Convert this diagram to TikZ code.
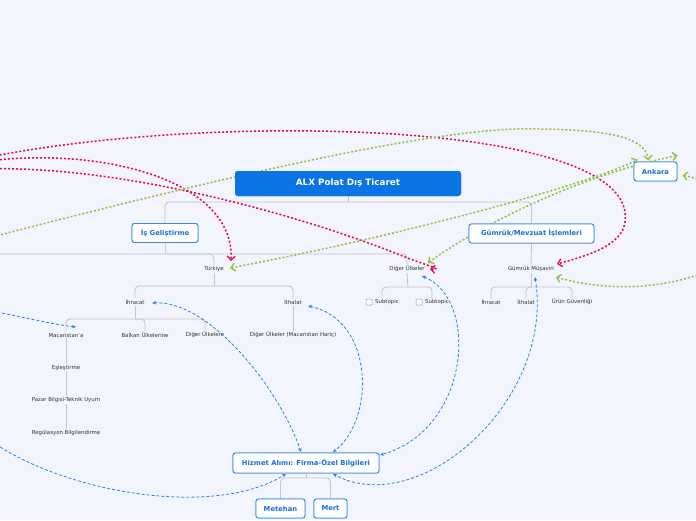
\documentclass[tikz,border=0pt]{standalone}
\usepackage{fontspec}
\setmainfont{DejaVu Sans}
\usetikzlibrary{arrows.meta}
\definecolor{bg}{HTML}{F2F5FD}
\definecolor{rootblue}{HTML}{0A74E4}
\definecolor{boxborder}{HTML}{3B8BE6}
\definecolor{boxtext}{HTML}{1A6FD9}
\definecolor{treeline}{HTML}{C2C6CF}
\definecolor{redc}{HTML}{E5084F}
\definecolor{greenc}{HTML}{8DC43F}
\definecolor{bluec}{HTML}{2B80E4}
\definecolor{labeltext}{HTML}{333333}
\begin{document}
\begin{tikzpicture}[x=1pt,y=-1pt,
  topic/.style={draw=boxborder, line width=0.9pt, fill=white, rounded corners=2.5pt,
    font=\fontsize{6.8}{7}\selectfont\bfseries, text=boxtext, inner sep=0pt, minimum height=19pt},
  rootbox/.style={fill=rootblue, rounded corners=3pt, text=white,
    font=\fontsize{8.8}{9}\selectfont\bfseries, inner sep=0pt, minimum width=226pt, minimum height=25pt},
  lbl/.style={font=\fontsize{5.4}{6}\selectfont, text=labeltext, inner sep=1pt, fill=bg},
  tree/.style={draw=treeline, line width=0.9pt, rounded corners=4pt},
  redrel/.style={draw=redc, line width=1.5pt, dash pattern=on 2pt off 2pt,
    -{Straight Barb[length=4pt,width=8pt,line width=1.3pt]}},
  greenrel/.style={draw=greenc, line width=1.5pt, dash pattern=on 2pt off 2pt,
    {Straight Barb[length=4pt,width=8pt,line width=1.3pt]}-{Straight Barb[length=4pt,width=8pt,line width=1.3pt]}},
  bluerel/.style={draw=bluec, line width=0.8pt, dash pattern=on 3pt off 2pt,
    {Stealth[length=4pt,width=3.5pt]}-{Stealth[length=4pt,width=3.5pt]}},
  checkbox/.style={draw=gray!80, fill=white, line width=0.5pt, rounded corners=0.8pt}
]
\useasboundingbox (0,0) rectangle (696,520);
\fill[bg] (0,0) rectangle (696,520);
\clip (0,0) rectangle (696,520);

% ---------- nodes (placed first, drawn again on top later) ----------
\path
  (348,183.5) node[rootbox] (root) {ALX Polat Dış Ticaret}
  (165,233) node[topic, minimum width=66pt] (isg) {İş Geliştirme}
  (531.5,233.5) node[topic, minimum width=125pt] (gum) {Gümrük/Mevzuat İşlemleri}
  (655.5,171.5) node[topic, minimum width=43pt] (ankara) {Ankara}
  (306,463) node[topic, minimum width=146pt, minimum height=20pt] (hizmet) {Hizmet Alımı: Firma-Özel Bilgileri}
  (280.5,508.5) node[topic, minimum width=49pt] (metehan) {Metehan}
  (330.5,508.5) node[topic, minimum width=33pt] (mert) {Mert};

\path
  (214,269) node[lbl] (turkiye) {Türkiye}
  (407,269) node[lbl] (digerulk) {Diğer Ülkeler}
  (531,269) node[lbl] (gmusavir) {Gümrük Müşaviri}
  (135,302) node[lbl] (ihracat) {İhracat}
  (293,302) node[lbl] (ithalat) {İthalat}
  (387,302) node[lbl] (sub1) {Subtopic}
  (437,302) node[lbl] (sub2) {Subtopic}
  (491,302) node[lbl] (gihr) {İhracat}
  (526,302) node[lbl] (gith) {İthalat}
  (572,302) node[lbl] (urun) {Ürün Güvenliği}
  (66,335) node[lbl] (macar) {Macaristan'a}
  (145,335) node[lbl] (balkan) {Balkan Ülkelerine}
  (205,335) node[lbl] (digerulke) {Diğer Ülkelere}
  (293,335) node[lbl] (digmac) {Diğer Ülkeler (Macaristan Hariç)}
  (66,368) node[lbl] (esles) {Eşleştirme}
  (66,400) node[lbl] (pazar) {Pazar Bilgisi-Teknik Uyum}
  (66,433) node[lbl] (regul) {Regülasyon Bilgilendirme};

% ---------- tree lines ----------
\draw[tree] (root.south) -- (348,202);
\draw[tree] (isg.north) |- (348,202) -| (gum.north);
\draw[tree] (isg.south) -- (166,254);
\draw[tree] (-5,254) -| (turkiye.north);
\draw[tree] (166,254) -| (digerulk.north);
\draw[tree] (turkiye.south) -- (214,286);
\draw[tree] (ihracat.north) |- (214,286) -| (ithalat.north);
\draw[tree] (ihracat.south) -- (135,319);
\draw[tree] (macar.north) |- (135,319) -| (digerulke.north);
\draw[tree] (135,319) -| (balkan.north);
\draw[tree] (macar.south) -- (esles.north);
\draw[tree] (esles.south) -- (pazar.north);
\draw[tree] (pazar.south) -- (regul.north);
\draw[tree] (ithalat.south) -- (digmac.north);
\draw[tree] (digerulk.south) -- (408,287);
\draw[tree] ([xshift=-5pt]sub1.north) |- (408,287) -| ([xshift=-5pt]sub2.north);
\draw[tree] (gum.south) -- (gmusavir.north);
\draw[tree] (gmusavir.south) -- (531,287);
\draw[tree] (gihr.north) |- (531,287) -| (urun.north);
\draw[tree] (531,287) -| (gith.north);
\draw[tree] (hizmet.south) -- (306,478);
\draw[tree] (metehan.north) |- (306,478) -| (mert.north);

% ---------- off-screen ends ----------
\coordinate (offA) at (-20,159);
\coordinate (offB) at (-20,162);
\coordinate (offC) at (-20,169);
\coordinate (offG) at (-20,240);
\coordinate (offM) at (-20,309);
\coordinate (offH) at (-10,440);

% ---------- relationships ----------
% red
\draw[redrel] (offA) .. controls (200,112) and (640,118) .. (625,222)
  .. controls (622,245) and (590,255) .. ([shift={(26,-5)}]gmusavir.center);
\draw[redrel] (offB) .. controls (100,145) and (235,180) .. ([shift={(17,-8)}]turkiye.center);
\draw[redrel] (offC) .. controls (120,164) and (300,215) .. (400,255)
  .. controls (425,265) and (445,270) .. ([shift={(23,0)}]digerulk.center);
% green
\draw[greenrel] (offG) .. controls (250,170) and (450,125) .. (540,129)
  .. controls (600,130) and (645,135) .. ([shift={(-7,-11)}]ankara.center);
\draw[greenrel] ([shift={(16,-1)}]turkiye.center) .. controls (420,232) and (600,180) .. ([shift={(-18,-12)}]ankara.center);
\draw[greenrel] ([shift={(21,-6)}]digerulk.center) .. controls (480,225) and (580,175) .. ([shift={(22,-16)}]ankara.center);
\draw[greenrel] ([shift={(25,8)}]gmusavir.center) .. controls (610,293) and (680,290) .. (730,260)
  .. controls (760,230) and (720,180) .. ([shift={(27,4)}]ankara.center);
% blue
\draw[bluerel] (offM) .. controls (20,316) and (50,324) .. ([shift={(10,-8)}]macar.center);
\draw[bluerel] (offH) .. controls (60,490) and (210,520) .. ([shift={(-20,11)}]hizmet.center);
\draw[bluerel] ([shift={(17,1)}]ihracat.center) .. controls (210,300) and (280,390) .. ([shift={(-5,-11)}]hizmet.center);
\draw[bluerel] ([shift={(15,4)}]ithalat.center) .. controls (375,320) and (375,420) .. ([shift={(27,-11)}]hizmet.center);
\draw[bluerel] ([shift={(15,7)}]digerulk.center) .. controls (480,300) and (470,430) .. ([shift={(74,-8)}]hizmet.center);
\draw[bluerel] ([shift={(4,8)}]gmusavir.center) .. controls (555,400) and (420,520) .. ([shift={(27,11)}]hizmet.center);

% ---------- nodes on top ----------
\node[rootbox] at (root) {ALX Polat Dış Ticaret};
\node[topic, minimum width=66pt] at (isg) {İş Geliştirme};
\node[topic, minimum width=125pt] at (gum) {Gümrük/Mevzuat İşlemleri};
\node[topic, minimum width=43pt] at (ankara) {Ankara};
\node[topic, minimum width=146pt, minimum height=20pt] at (hizmet) {Hizmet Alımı: Firma-Özel Bilgileri};
\node[topic, minimum width=49pt] at (metehan) {Metehan};
\node[topic, minimum width=33pt] at (mert) {Mert};
\draw[checkbox] (366,299) rectangle (372,305);
\draw[checkbox] (416,299) rectangle (422,305);
\end{tikzpicture}
\end{document}
